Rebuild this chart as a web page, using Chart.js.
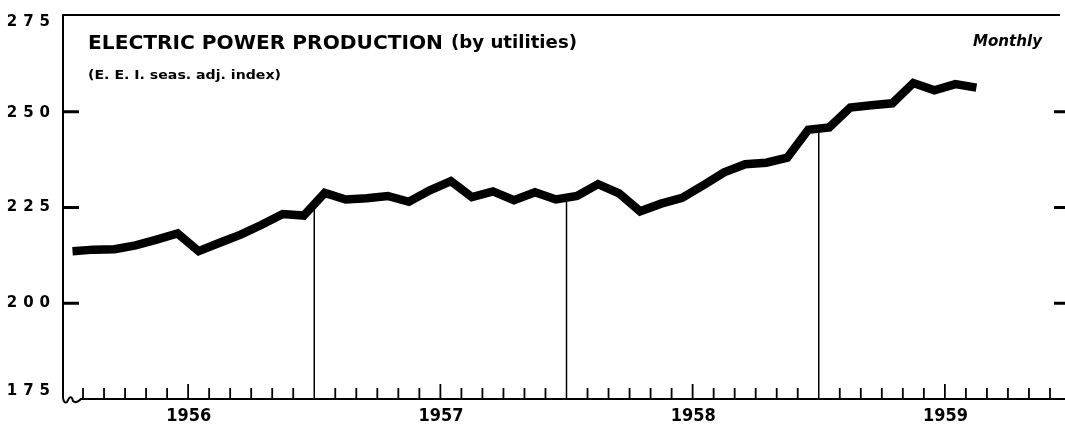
<!DOCTYPE html>
<html>
<head>
<meta charset="utf-8">
<script src="https://cdn.jsdelivr.net/npm/chart.js@4.4.0/dist/chart.umd.min.js"></script>
<style>
    html, body { margin: 0; padding: 0; background: #fff; overflow: hidden; width: 1065px; height: 429px; }
    canvas { display: block; }
</style>
</head>
<body>
<canvas id="powerChart" width="1080" height="429"></canvas>
<script>
// Dados (índice mensal, jan/1956 a ago/1959)
const years = ['1956', '1957', '1958', '1959'];
const yTicks = [175, 200, 225, 250, 275];
const production = [
    213.6, 214.0, 214.1, 215.1, 216.6, 218.2, 213.6, 215.8, 217.9, 220.5, 223.3, 222.9,
    228.8, 227.1, 227.4, 228.0, 226.5, 229.5, 231.9, 227.7, 229.2, 226.9, 229.0, 227.1,
    228.0, 231.1, 228.7, 224.0, 226.0, 227.5, 230.8, 234.2, 236.3, 236.7, 238.0, 245.3,
    245.9, 251.1, 251.7, 252.2, 257.5, 255.6, 257.2, 256.3
];
const titleText = 'ELECTRIC POWER PRODUCTION';
const titleNote = '(by utilities)';
const subtitleText = '(E. E. I. seas. adj. index)';
const periodText = 'Monthly';

const FONT = "'DejaVu Sans', 'Liberation Sans', sans-serif";

// Escreve o texto ajustado a uma largura
function fitText(ctx, text, x, y, width) {
    const w = ctx.measureText(text).width;
    ctx.save();
    ctx.translate(x, y);
    ctx.scale(width / w, 1);
    ctx.fillText(text, 0, 0);
    ctx.restore();
}

// Escreve números espaçados, alinhados à direita
function spacedText(ctx, text, right, y, gap) {
    let x = right;
    for (let i = text.length - 1; i >= 0; i--) {
        const ch = text[i];
        const w = ctx.measureText(ch).width;
        x -= w;
        ctx.fillText(ch, x, y);
        x -= gap;
    }
}

const framePlugin = {
    id: 'frame',
    beforeDatasetsDraw(chart) {
        const { ctx, chartArea: a, scales: { x, y } } = chart;
        const axisY = y.getPixelForValue(175);
        const leftX = a.left + 1;
        ctx.save();
        ctx.strokeStyle = '#000';
        ctx.lineCap = 'butt';

        // borda superior e eixo esquerdo
        ctx.lineWidth = 2;
        ctx.beginPath();
        ctx.moveTo(leftX, y.getPixelForValue(275) - 1);
        ctx.lineTo(1060, y.getPixelForValue(275) - 1);
        ctx.moveTo(leftX, y.getPixelForValue(275) - 2);
        ctx.lineTo(leftX, axisY - 1);
        ctx.stroke();

        // quebra do eixo
        ctx.beginPath();
        ctx.moveTo(leftX, axisY - 1);
        ctx.quadraticCurveTo(leftX + 1, axisY + 5, leftX + 4, axisY + 3);
        ctx.quadraticCurveTo(leftX + 8, axisY - 6, leftX + 10, axisY + 2);
        ctx.quadraticCurveTo(leftX + 13, axisY + 5, leftX + 18, axisY);
        ctx.lineTo(1080, axisY);
        ctx.stroke();

        // marcas do eixo y (esquerda e direita)
        ctx.lineWidth = 3;
        [200, 225, 250].forEach(v => {
            const py = y.getPixelForValue(v);
            ctx.beginPath();
            ctx.moveTo(leftX, py);
            ctx.lineTo(leftX + 16, py);
            ctx.moveTo(1054, py);
            ctx.lineTo(1066, py);
            ctx.stroke();
        });

        // marcas mensais
        ctx.lineWidth = 1.8;
        for (let m = 1; m < 48; m++) {
            if (m % 12 === 0) continue;
            const px = x.getPixelForValue(m);
            const h = m % 6 === 0 ? 15 : 11;
            ctx.beginPath();
            ctx.moveTo(px, axisY);
            ctx.lineTo(px, axisY - h);
            ctx.stroke();
        }

        // divisões entre anos, até a linha
        ctx.lineWidth = 1.5;
        for (let yr = 1; yr < years.length; yr++) {
            const m = yr * 12;
            const v = (production[m - 1] + production[m]) / 2;
            const px = x.getPixelForValue(m);
            ctx.beginPath();
            ctx.moveTo(px, axisY);
            ctx.lineTo(px, y.getPixelForValue(v));
            ctx.stroke();
        }
        ctx.restore();
    },
    afterDraw(chart) {
        const { ctx, scales: { x, y } } = chart;
        ctx.save();
        ctx.fillStyle = '#000';
        ctx.textBaseline = 'middle';

        // rótulos do eixo y
        ctx.font = 'bold 15px ' + FONT;
        yTicks.forEach(v => {
            let py = y.getPixelForValue(v);
            if (v === 275) py += 6;
            if (v === 175) py -= 8;
            if (v === 250) py += 1;
            spacedText(ctx, String(v), 50, py, 6);
        });

        // anos
        ctx.font = 'bold 17px ' + FONT;
        years.forEach((yr, i) => {
            const cx = x.getPixelForValue(i * 12 + 6);
            fitText(ctx, yr, cx - 22, 417, 45);
        });

        // títulos
        ctx.font = 'bold 19px ' + FONT;
        fitText(ctx, titleText, 88, 44, 355);
        ctx.font = 'bold 17px ' + FONT;
        fitText(ctx, titleNote, 451, 44, 126);
        ctx.font = 'bold 13px ' + FONT;
        fitText(ctx, subtitleText, 88, 76, 193);
        ctx.font = 'italic bold 15px ' + FONT;
        fitText(ctx, periodText, 973, 42, 69);
        ctx.restore();
    }
};

const chart = new Chart(document.getElementById('powerChart').getContext('2d'), {
    type: 'line',
    data: {
        datasets: [{
            data: production.map((v, i) => ({ x: i + 0.5, y: v })),
            borderColor: '#000',
            borderWidth: 8.5,
            borderCapStyle: 'butt',
            borderJoinStyle: 'miter',
            pointRadius: 0,
            tension: 0,
            fill: false,
            clip: false
        }]
    },
    options: {
        responsive: false,
        animation: false,
        layout: { padding: { left: 62, right: 9, top: 16, bottom: 30 } },
        plugins: {
            legend: { display: false },
            tooltip: { enabled: false }
        },
        scales: {
            x: { type: 'linear', min: 0, max: 48, display: false },
            y: { min: 175, max: 275, display: false }
        }
    },
    plugins: [framePlugin]
});
</script>
</body>
</html>
